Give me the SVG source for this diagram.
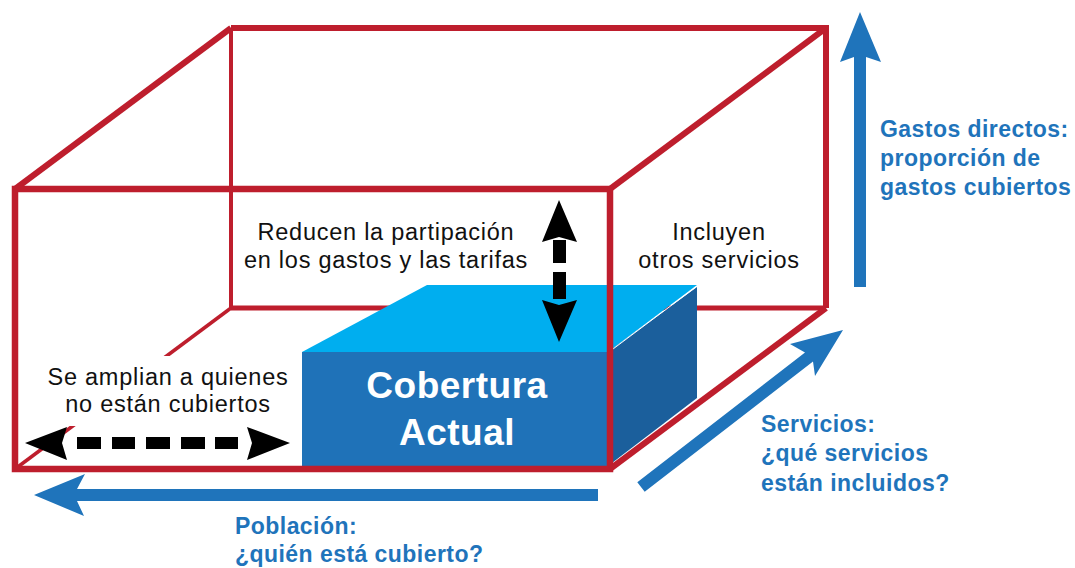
<svg xmlns="http://www.w3.org/2000/svg" width="1075" height="568" viewBox="0 0 1075 568">
  <style>
    .red { fill: none; stroke: #BE1E2D; stroke-linejoin: miter; }
    .lbl { font-family: "Liberation Sans", Arial, sans-serif; font-size: 23.5px; letter-spacing: 0.75px; fill: #111; text-anchor: middle; }
    .blu { font-family: "Liberation Sans", Arial, sans-serif; font-size: 23px; font-weight: bold; letter-spacing: 0.45px; fill: #1F74BB; }
    .cob { font-family: "Liberation Sans", Arial, sans-serif; font-size: 37px; font-weight: bold; letter-spacing: 0.5px; fill: #FFFFFF; text-anchor: middle; }
    .barrow { fill: #1F74BB; }
    .karrow { fill: #000000; }
  </style>
  <rect width="1075" height="568" fill="#FFFFFF"/>

  <g id="frame-back">
    <path class="red" stroke-width="4" d="M231,28 V308"/>
    <path class="red" stroke-width="5" d="M231,308 H826"/>
    <path class="red" stroke-width="3.5" d="M15,469 L231,308"/>
    <path class="red" stroke-width="6" d="M231,28 H826 V308"/>
    <path class="red" stroke-width="6" d="M15,189 L231,28"/>
    <path class="red" stroke-width="6" d="M610,189 L826,28"/>
  </g>

  <g id="label-amplian">
    <rect x="40" y="356" width="258" height="70" fill="#FFFFFF"/>
    <text class="lbl" x="168" y="385">Se amplian a quienes</text>
    <text class="lbl" x="168" y="412">no están cubiertos</text>
  </g>

  <g id="cobertura-actual">
    <polygon points="302,352 427,285 697,285 608,352" fill="#00AEEF"/>
    <polygon points="608,352 697,287 697,398 608,466" fill="#1B5F9C"/>
    <line x1="609" y1="352" x2="696" y2="287" stroke="#FFFFFF" stroke-width="1"/>
    <rect x="302" y="352" width="307" height="115" fill="#1F72B8"/>
    <text class="cob" x="457" y="398">Cobertura</text>
    <text class="cob" x="457" y="445">Actual</text>
  </g>

  <g id="frame-front">
    <rect class="red" x="15" y="189" width="595" height="280" stroke-width="6.5"/>
    <path class="red" stroke-width="6" d="M610,469 L826,308"/>
  </g>

  <g id="label-reducen">
    <text class="lbl" x="386" y="240">Reducen la partipación</text>
    <text class="lbl" x="386" y="268">en los gastos y las tarifas</text>
  </g>

  <g id="label-incluyen">
    <text class="lbl" x="719" y="240">Incluyen</text>
    <text class="lbl" x="719" y="268">otros servicios</text>
  </g>

  <g id="connectors">
    <polygon class="barrow" points="34,495 85,474 77,489 598,489 598,501 77,501 84,516"/>
    <polygon class="barrow" points="860,12 881,62 866,57 866,287 854,287 854,57 840,62"/>
    <polygon class="barrow" points="637.3,482.3 805,352.6 790,344 843,330 815,376 813,361.6 644.7,491.8"/>

    <g id="arrow-amplian">
      <polygon class="karrow" points="25,443 67,427 62,443 67,460"/>
      <rect class="karrow" x="77" y="437" width="24" height="12"/>
      <rect class="karrow" x="112" y="437" width="23" height="12"/>
      <rect class="karrow" x="146" y="437" width="24" height="12"/>
      <rect class="karrow" x="181" y="437" width="24" height="12"/>
      <rect class="karrow" x="215" y="437" width="23" height="12"/>
      <polygon class="karrow" points="290,443 247,427 252,443 247,460"/>
    </g>

    <g id="arrow-reducen">
      <polygon class="karrow" points="559,200 577,242 559,237 542,242"/>
      <rect class="karrow" x="553" y="240" width="13" height="23"/>
      <rect class="karrow" x="553" y="272" width="13" height="27"/>
      <polygon class="karrow" points="542,300 559,305 577,300 559,342"/>
    </g>
  </g>

  <g id="label-gastos">
    <text class="blu" x="880" y="137">Gastos directos:</text>
    <text class="blu" x="880" y="166">proporción de</text>
    <text class="blu" x="880" y="195">gastos cubiertos</text>
  </g>

  <g id="label-servicios">
    <text class="blu" x="761" y="432">Servicios:</text>
    <text class="blu" x="761" y="461">¿qué servicios</text>
    <text class="blu" x="761" y="491">están incluidos?</text>
  </g>

  <g id="label-poblacion">
    <text class="blu" x="235" y="534">Población:</text>
    <text class="blu" x="235" y="562">¿quién está cubierto?</text>
  </g>
</svg>
